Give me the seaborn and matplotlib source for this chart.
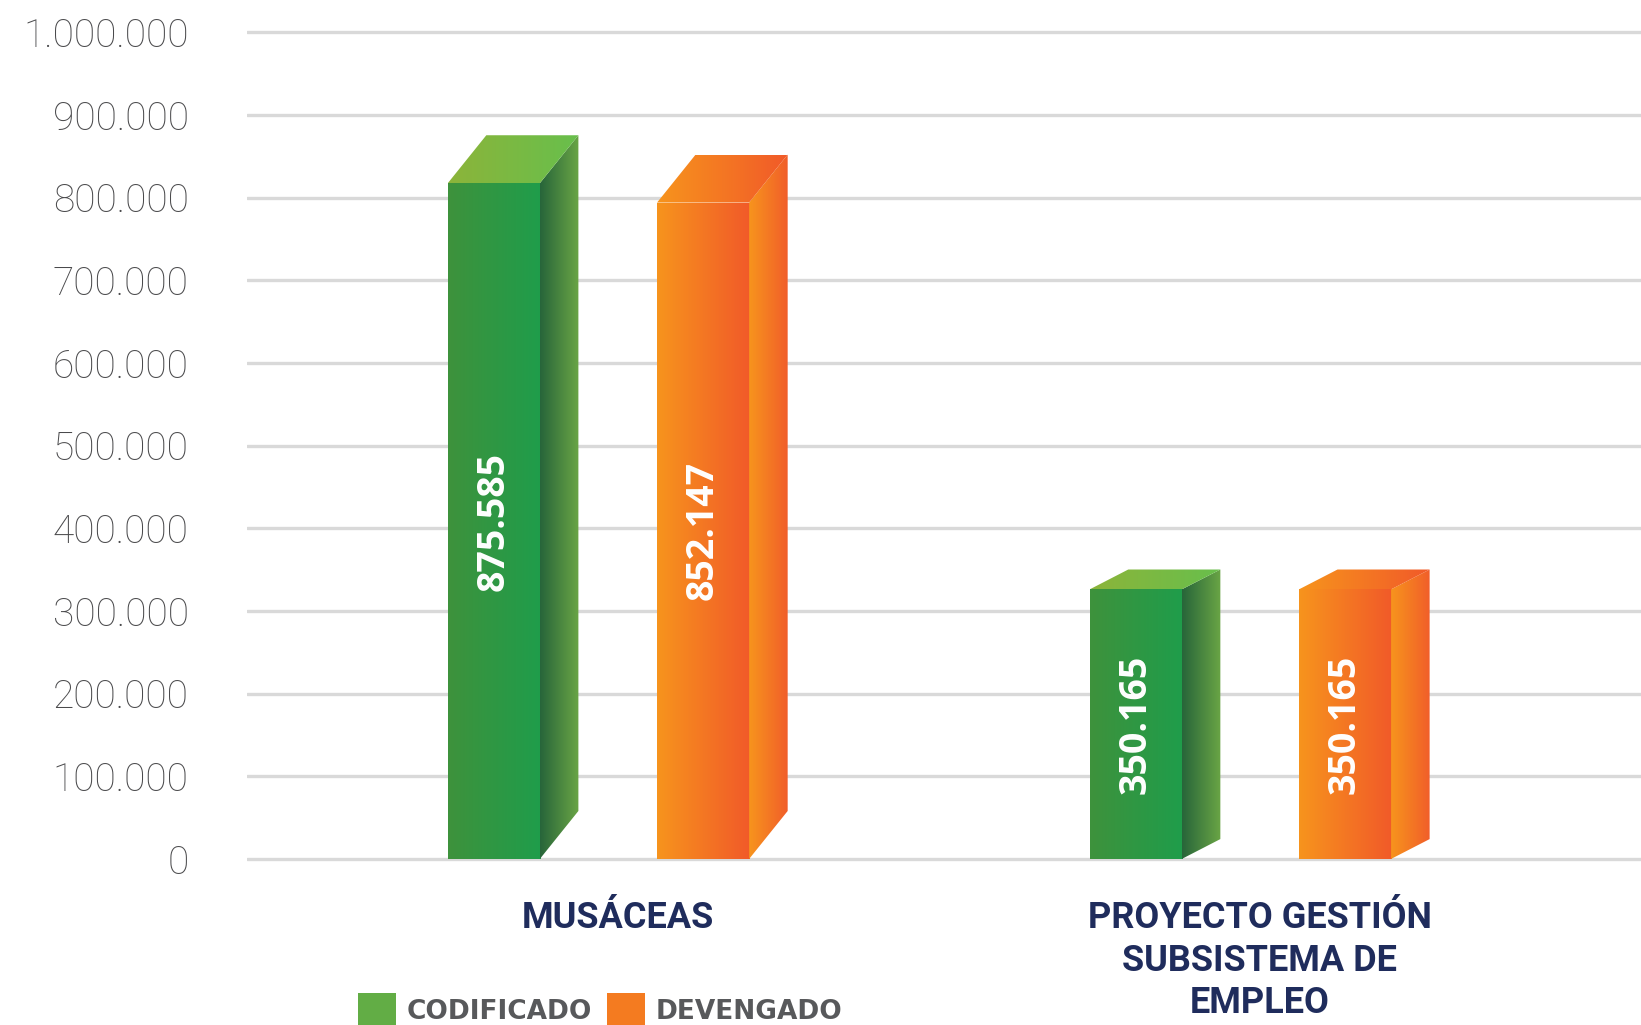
import numpy as np
import pandas as pd
import matplotlib
matplotlib.use("Agg")
import matplotlib.pyplot as plt
import seaborn as sns
from matplotlib.patches import Polygon, Patch
from matplotlib.colors import LinearSegmentedColormap
from matplotlib.ticker import FuncFormatter

# Datos del gráfico
categorias = ["MUSÁCEAS", "PROYECTO GESTIÓN\nSUBSISTEMA DE\nEMPLEO"]
series = ["CODIFICADO", "DEVENGADO"]
codificado = [875585, 350165]
devengado = [852147, 350165]
y_ticks = [0, 100000, 200000, 300000, 400000, 500000, 600000, 700000, 800000, 900000, 1000000]

# Estilo del efecto 3D (profundidad en unidades de datos por categoría)
prof_x = 0.06
prof_y = [58000, 24000]

# Colores de degradado (izquierda, derecha) por serie y cara
caras = {
    "CODIFICADO": {"frente": ("#3e923c", "#1f9d4b"),
                   "lado": ("#27653a", "#6aa545"),
                   "tapa": ("#8cb43a", "#68bf4c")},
    "DEVENGADO": {"frente": ("#f7941d", "#f15a29"),
                  "lado": ("#f7941d", "#f15e2a"),
                  "tapa": ("#f7941d", "#f15a29")},
}
color_leyenda = {"CODIFICADO": "#62ad45", "DEVENGADO": "#f47b20"}

valores = {"CODIFICADO": codificado, "DEVENGADO": devengado}
filas = []
for s in series:
    for i, c in enumerate(categorias):
        filas.append({"categoria": c, "serie": s, "valor": valores[s][i],
                      "frente": valores[s][i] - prof_y[i]})
df = pd.DataFrame(filas)

sns.set_style("white")
plt.rcParams["font.family"] = ["Roboto", "DejaVu Sans"]

fig = plt.figure(figsize=(16.41, 10.25), dpi=100)
ax = fig.add_axes([247 / 1641, 0.1459, 1 - 247 / 1641, 0.8386])

sns.barplot(data=df, x="categoria", y="frente", hue="serie", order=categorias,
            hue_order=series, width=0.652, gap=0.56,
            palette=[color_leyenda[s] for s in series], legend=False, ax=ax,
            zorder=3)

xlim = (-0.5475, 1.624)
ylim = (-20000, 1020000)


def relleno_degradado(ax, patch, c_izq, c_der, zorder):
    cmap = LinearSegmentedColormap.from_list("g", [c_izq, c_der])
    if isinstance(patch, Polygon):
        xy = patch.get_xy()
    else:
        x0, y0 = patch.get_x(), patch.get_y()
        xy = np.array([[x0, y0], [x0 + patch.get_width(), y0 + patch.get_height()]])
    img = ax.imshow(np.linspace(0, 1, 256).reshape(1, -1), cmap=cmap,
                    extent=[xy[:, 0].min(), xy[:, 0].max(), xy[:, 1].min(), xy[:, 1].max()],
                    aspect="auto", origin="lower", interpolation="bicubic", zorder=zorder)
    img.set_clip_path(patch)
    patch.set_facecolor("none")
    patch.set_edgecolor("none")


barras = list(ax.patches)
for p in barras:
    cx = p.get_x() + p.get_width() / 2
    i = int(round(cx))
    s = series[0] if cx < i else series[1]
    x0 = p.get_x()
    x1 = x0 + p.get_width()
    h = p.get_height()
    dy = prof_y[i]
    lado = Polygon([[x1, 0], [x1 + prof_x, dy], [x1 + prof_x, h + dy], [x1, h]],
                   closed=True, zorder=3)
    tapa = Polygon([[x0, h], [x1, h], [x1 + prof_x, h + dy], [x0 + prof_x, h + dy]],
                   closed=True, zorder=3)
    ax.add_patch(lado)
    ax.add_patch(tapa)
    relleno_degradado(ax, p, *caras[s]["frente"], zorder=3)
    relleno_degradado(ax, lado, *caras[s]["lado"], zorder=3)
    relleno_degradado(ax, tapa, *caras[s]["tapa"], zorder=3)

# Etiquetas de valor dentro de las barras
for cont, s in zip(ax.containers, series):
    etiquetas = [f"{v:,.0f}".replace(",", ".") for v in valores[s]]
    ax.bar_label(cont, labels=etiquetas, label_type="center", rotation=90,
                 color="white", fontsize=27, fontweight="bold",
                 family=["Open Sans", "DejaVu Sans"], zorder=5)

ax.set_xlim(*xlim)
ax.set_ylim(*ylim)
ax.set_yticks(y_ticks)
ax.yaxis.set_major_formatter(FuncFormatter(lambda v, _: f"{v:,.0f}".replace(",", ".")))
ax.grid(axis="y", color="#d9d9d9", linewidth=2.4)
ax.grid(axis="x", visible=False)
ax.set_axisbelow(True)
sns.despine(ax=ax, left=True, bottom=True)
ax.tick_params(axis="y", length=0, pad=42, labelsize=28, labelcolor="#4a4a4c")
ax.tick_params(axis="x", length=0, pad=18)
for t in ax.get_yticklabels():
    t.set_fontweight("light")

ax.set_xticks([i + prof_x / 2 for i in range(len(categorias))])
ax.set_xticklabels(categorias, fontsize=26, fontweight="bold", color="#1f2c5c",
                   linespacing=1.22)
ax.set_xlabel("")
ax.set_ylabel("")

# Leyenda
handles = [Patch(facecolor=color_leyenda[s], edgecolor="none") for s in series]
fig.legend(handles, series, loc="upper left", bbox_to_anchor=(358 / 1641, 0.031),
           ncol=2, frameon=False, handlelength=1.45, handleheight=1.6,
           handletextpad=0.4, columnspacing=0.55, borderpad=0, borderaxespad=0,
           prop={"family": ["DejaVu Sans"], "weight": "bold", "size": 19})
for t in fig.legends[0].get_texts():
    t.set_color("#58595b")

fig.savefig("out.png", dpi=100)
